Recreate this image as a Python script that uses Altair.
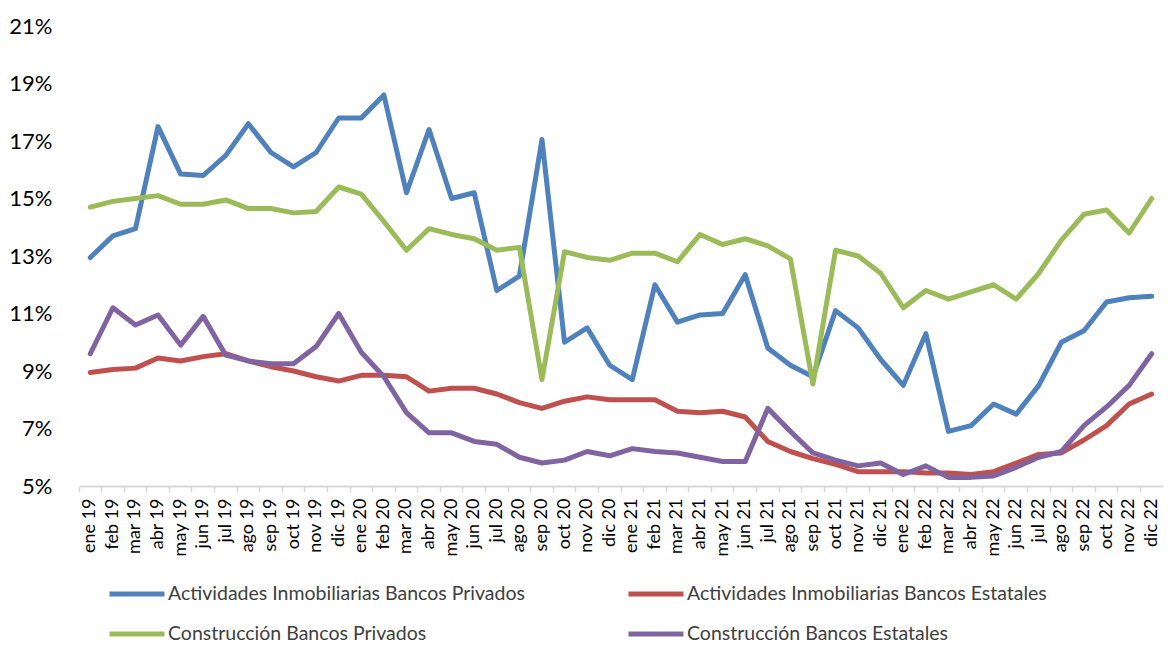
import altair as alt
import pandas as pd

months = ["ene 19","feb 19","mar 19","abr 19","may 19","jun 19","jul 19","ago 19","sep 19","oct 19","nov 19","dic 19",
          "ene 20","feb 20","mar 20","abr 20","may 20","jun 20","jul 20","ago 20","sep 20","oct 20","nov 20","dic 20",
          "ene 21","feb 21","mar 21","abr 21","may 21","jun 21","jul 21","ago 21","sep 21","oct 21","nov 21","dic 21",
          "ene 22","feb 22","mar 22","abr 22","may 22","jun 22","jul 22","ago 22","sep 22","oct 22","nov 22","dic 22"]

inm_priv = [12.95, 13.7, 13.95, 17.5, 15.85, 15.8, 16.5, 17.6, 16.6, 16.1, 16.6, 17.8,
            17.8, 18.6, 15.2, 17.4, 15.0, 15.2, 11.8, 12.3, 17.05, 10.0, 10.5, 9.2,
            8.7, 12.0, 10.7, 10.95, 11.0, 12.35, 9.8, 9.2, 8.8, 11.1, 10.5, 9.4,
            8.5, 10.3, 6.9, 7.1, 7.85, 7.5, 8.5, 10.0, 10.4, 11.4, 11.55, 11.6]
inm_est = [8.95, 9.05, 9.1, 9.45, 9.35, 9.5, 9.6, 9.35, 9.15, 9.0, 8.8, 8.65,
           8.85, 8.85, 8.8, 8.3, 8.4, 8.4, 8.2, 7.9, 7.7, 7.95, 8.1, 8.0,
           8.0, 8.0, 7.6, 7.55, 7.6, 7.4, 6.55, 6.2, 5.95, 5.75, 5.5, 5.5,
           5.5, 5.45, 5.45, 5.4, 5.5, 5.8, 6.1, 6.15, 6.6, 7.1, 7.85, 8.2]
cons_priv = [14.7, 14.9, 15.0, 15.1, 14.8, 14.8, 14.95, 14.65, 14.65, 14.5, 14.55, 15.4,
             15.15, 14.2, 13.2, 13.95, 13.75, 13.6, 13.2, 13.3, 8.7, 13.15, 12.95, 12.85,
             13.1, 13.1, 12.8, 13.75, 13.4, 13.6, 13.35, 12.9, 8.55, 13.2, 13.0, 12.4,
             11.2, 11.8, 11.5, 11.75, 12.0, 11.5, 12.4, 13.55, 14.45, 14.6, 13.8, 15.0]
cons_est = [9.6, 11.2, 10.6, 10.95, 9.9, 10.9, 9.55, 9.35, 9.25, 9.25, 9.85, 11.0,
            9.65, 8.8, 7.55, 6.85, 6.85, 6.55, 6.45, 6.0, 5.8, 5.9, 6.2, 6.05,
            6.3, 6.2, 6.15, 6.0, 5.85, 5.85, 7.7, 6.9, 6.15, 5.9, 5.7, 5.8,
            5.4, 5.7, 5.3, 5.3, 5.35, 5.65, 6.0, 6.2, 7.1, 7.75, 8.5, 9.6]

series_names = ["Actividades Inmobiliarias Bancos Privados",
                "Actividades Inmobiliarias Bancos Estatales",
                "Construcción Bancos Privados",
                "Construcción Bancos Estatales"]
series_colors = ["#4f81bd", "#c0504d", "#9bbb59", "#8064a2"]
y_ticks = [5, 7, 9, 11, 13, 15, 17, 19, 21]

rows = []
for name, vals in zip(series_names, [inm_priv, inm_est, cons_priv, cons_est]):
    for m, v in zip(months, vals):
        rows.append({"mes": m, "valor": v, "serie": name})
df = pd.DataFrame(rows)

FONT = "Lato"

chart = alt.Chart(df).mark_line(strokeWidth=5, strokeJoin="round", strokeCap="round").encode(
    x=alt.X("mes:N", sort=months, bandPosition=0.5,
            scale=alt.Scale(type="band", paddingInner=0, paddingOuter=0),
            axis=alt.Axis(title=None, bandPosition=0, labelAngle=-90, labelFontSize=18, labelColor="#000000",
                          labelFont=FONT, labelPadding=6, domainColor="#d9d9d9", domainWidth=2,
                          tickColor="#d9d9d9", tickWidth=1.5, tickSize=6, grid=False)),
    y=alt.Y("valor:Q", scale=alt.Scale(domain=[5, 21], nice=False, zero=False),
            axis=alt.Axis(title=None, values=y_ticks, labelExpr="datum.value + '%'", labelFontSize=22,
                          labelFont=FONT, labelColor="#000000", labelPadding=27, domain=False, ticks=False,
                          grid=False)),
    color=alt.Color("serie:N", sort=series_names,
                    scale=alt.Scale(domain=series_names, range=series_colors),
                    legend=alt.Legend(title=None, orient="none", legendX=28, legendY=538, columns=2,
                                      direction="horizontal",
                                      symbolType="stroke", symbolSize=3025, symbolStrokeWidth=5,
                                      labelFontSize=19.5, labelFont=FONT, labelColor="#404040",
                                      labelOffset=1, labelLimit=600, rowPadding=-15, columnPadding=93,
                                      gridAlign="each")),
).properties(
    width=1084, height=460,
    padding={"left": 71, "top": 18, "right": 2, "bottom": 160},
    autosize=alt.AutoSizeParams(type="none"),
).configure_view(stroke=None)

chart.save("out.html", embed_options={"renderer": "svg", "actions": False})
